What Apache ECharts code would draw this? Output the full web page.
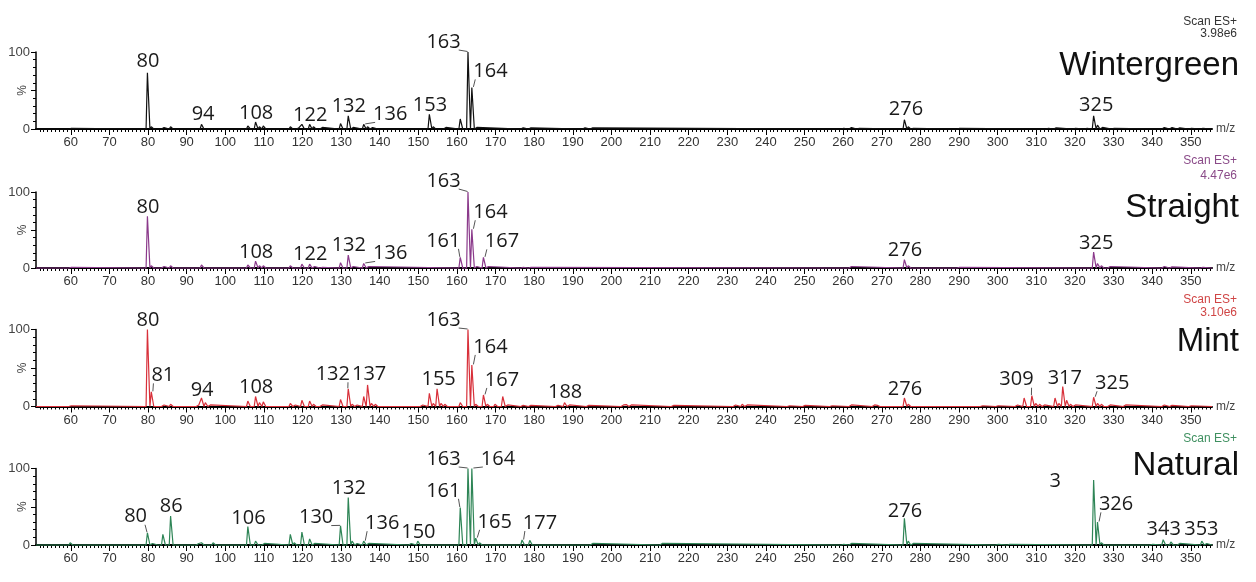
<!DOCTYPE html>
<html><head><meta charset="utf-8">
<script src="https://cdn.jsdelivr.net/npm/echarts@6/dist/echarts.min.js"></script>
<style>html,body{margin:0;padding:0;background:#fff}#c{width:1256px;height:582px}</style>
</head><body><div id="c"></div>
<script>
// ---------- DATA ----------
const xTickLabels = [60,70,80,90,100,110,120,130,140,150,160,170,180,190,200,210,220,230,240,250,260,270,280,290,300,310,320,330,340,350];
const panelNames = ['Wintergreen','Straight','Mint','Natural'];
const scanTexts = ['Scan ES+','Scan ES+','Scan ES+','Scan ES+'];
const scaleTexts = ['3.98e6','4.47e6','3.10e6',''];

const wgMz  = [60,80,81,84,86,94,106,108,109,110,117,119,120,122,123,125,130,132,133,136,137,138,139,153,154,157,161,163,164,165,177,179,193,195,260,262,264,276,277,278,290,313,315,320,323,325,326,327,330,343,345,347,350,353];
const wgInt = [1,73,3,2,3,6,4,9,3,4,3,2,6,6,3,2,7,17,2,6,3,2,1,19,3,2,13,100,54,2,1.5,1.5,1.5,1.5,1,2,1,12,3,1,1,1,1.5,1,1,17,5,2,1,2,2,1.5,1,1];
const wgLabels = [80,94,108,122,132,136,153,163,164,276,325];

const stMz  = [60,80,81,84,86,94,106,108,109,110,117,120,122,123,125,130,132,133,136,137,161,163,164,165,167,168,177,179,262,276,277,290,325,326,327,329,343,345,353];
const stInt = [1,68,3,2,3,4,4,9,3,3,3,5,5,2,1,7,17,2,6,2,14,100,51,2,14,2,1,1,2,11,3,1,21,6,3,2,2,1.5,1];
const stLabels = [80,108,122,132,136,161,163,164,167,276,325];

const mtMz  = [60,80,81,84,86,93,94,95,96,106,108,109,110,117,118,120,122,123,125,130,132,133,134,136,137,138,139,151,153,154,155,156,157,161,163,164,165,167,168,170,172,173,177,179,186,188,189,194,203,204,205,216,232,234,235,246,250,257,262,268,269,276,277,296,300,305,307,309,310,311,312,315,316,317,318,319,320,325,326,327,329,333,343,345,350];
const mtInt = [1,100,19,2,3,2,11,5,2,7,13,5,6,4,2,8,7,3,2,9,23,3,2,13,28,4,3,2,17,4,23,4,3,5,100,54,3,15,3,3,13,2,1.5,1.5,1.5,5,2,1.5,2,2.5,2,1.5,2,3,2,1,1.5,1,2,2,1.5,11,3,1,1,2,11,14,4,3,2,11,4,26,8,3,2,12,4,3,2,2,2,1.5,1];
const mtLabels = [80,81,94,108,132,137,155,163,164,167,188,276,309,317,325];

const ntMz  = [60,80,81,82,84,86,93,94,97,106,108,110,117,118,120,122,123,130,132,133,134,136,137,148,150,161,163,164,165,166,177,179,195,213,260,262,276,277,278,300,303,325,326,327,340,343,345,347,353,354];
const ntInt = [3,16,2,1,14,38,2,3,3,24,5,2,14,3,17,8,2,25,62,5,2,5,2,2,5,49,100,100,9,3,6.5,6,2,2,1,2,35,5,2,1,1,85,30,3,1,7,4,2,5,2];
const ntLabels = [80,86,106,130,132,136,150,161,163,164,165,177,276,326,343,353];
const ntExtraLabel = '3';

// ---------- STYLE / LAYOUT ----------
const X_MIN = 51, X_MAX = 355.5;
const lineColors = ['#111111','#8b3a8b','#d8303a','#2e8556'];
const scanColors = ['#333333','#8a4a88','#d04545','#3f9060'];
const gridTops = [52, 192, 329.5, 468.5];
const gridHeights = [77, 76, 77, 76.5];
const headerY = [[21.5,34,66],[161,176,208],[299.5,313,342],[438.7,0,466]];

const OFF = [
 {80:[0,-12],94:[1,-11],108:[0,-10],122:[0,-10],132:[0,-11],136:[26,-11],153:[0,-10],163:[-25,-11],164:[18,-17],276:[1,-11],325:[2,-12]},
 {80:[0,-10],108:[0,-10],122:[0,-11],132:[0,-11],136:[26,-11],161:[-17.5,-17.5],163:[-25,-12],164:[18,-18],167:[18,-17],276:[0,-10],325:[2,-10]},
 {80:[0,-10.5],81:[11,-17.5],94:[0,-9],108:[0,-10],132:[-16,-15.5],137:[1,-11.7],155:[1,-10],163:[-25,-10.5],164:[18,-19],167:[18,-16],188:[0,-11],276:[0,-9.5],309:[-16,-17],317:[1.5,-9],325:[18,-15]},
 {80:[-12.4,-17],86:[0,-10.4],106:[0,-9],130:[-25,-9.3],132:[0,-10],136:[18,-19],150:[0,-10],161:[-17.5,-17.7],163:[-25,-10.5],164:[25.6,-10.5],165:[18.5,-17.3],177:[17.4,-18],276:[0,-8],326:[18,-18.7],343:[0,-11],353:[-1,-13]}
];

const spectra = [[wgMz,wgInt,wgLabels],[stMz,stInt,stLabels],[mtMz,mtInt,mtLabels],[ntMz,ntInt,ntLabels]];

function profile(mz, inten){
  const pts = [[X_MIN,0]];
  for (let i=0;i<mz.length;i++){
    const m = mz[i], h = inten[i];
    pts.push([m-0.5,0],[m-0.15,h],[m+0.15,h],[m+0.5,0]);
  }
  pts.push([X_MAX,0]);
  return pts;
}

const minorTicks = [];
for (let v=52; v<=355; v++) minorTicks.push(v);

const grid=[], xAxis=[], yAxis=[], series=[], graphic=[];
const FONT_AX = 'Liberation Sans, Arial, sans-serif';

spectra.forEach((sp, i) => {
  const [mz, inten, labs] = sp;
  grid.push({left:36, right:44, top:gridTops[i], height:gridHeights[i], containLabel:false, outerBoundsMode:'none'});
  xAxis.push({
    type:'value', gridIndex:i, min:X_MIN, max:X_MAX, position:'bottom',
    axisLine:{onZero:false, lineStyle:{color:'#000', width:2}},
    axisTick:{customValues:xTickLabels, length:6, lineStyle:{color:'#000', width:1}},
    axisLabel:{customValues:xTickLabels, fontSize:13, color:'#333', margin:7, fontFamily:FONT_AX},
    splitLine:{show:false},
    name:'m/z', nameLocation:'end', nameGap:4, nameMoveOverlap:false,
    nameTextStyle:{fontSize:12, color:'#444', fontFamily:FONT_AX, verticalAlign:'middle'}
  });
  xAxis.push({
    type:'value', gridIndex:i, min:X_MIN, max:X_MAX, position:'bottom',
    axisLine:{show:false},
    axisTick:{customValues:minorTicks, length:3, lineStyle:{color:'#000', width:1}},
    axisLabel:{show:false}, splitLine:{show:false}
  });
  yAxis.push({
    type:'value', gridIndex:i, min:0, max:100, interval:50,
    axisLine:{show:true, lineStyle:{color:'#000', width:1.5}},
    axisTick:{show:true, length:5, lineStyle:{color:'#000'}},
    minorTick:{show:true, splitNumber:5, length:3, lineStyle:{color:'#000'}},
    splitLine:{show:false}, minorSplitLine:{show:false},
    axisLabel:{formatter:v => v===50 ? '' : String(v), fontSize:13, color:'#444', margin:6, fontFamily:FONT_AX},
    name:'%', nameLocation:'middle', nameRotate:90, nameGap:7, nameMoveOverlap:false,
    nameTextStyle:{fontSize:12, color:'#444', fontFamily:FONT_AX}
  });
  series.push({
    type:'line', xAxisIndex:2*i, yAxisIndex:i, data:profile(mz,inten),
    showSymbol:false, symbol:'none', animation:false, z:3, clip:false,
    lineStyle:{color:lineColors[i], width:1.2}, silent:true
  });
  const off = OFF[i];
  const labData = labs.map(m => [m, inten[mz.indexOf(m)], m]);
  series.push({
    type:'custom', xAxisIndex:2*i, yAxisIndex:i, data:labData, animation:false, silent:true, z:5,
    renderItem:(params, api) => {
      const m = api.value(2);
      const p = api.coord([api.value(0), api.value(1)]);
      const o = off[m] || [0,-10];
      const cx = p[0]+o[0], cy = p[1]+o[1]+1;
      const txt = String(m);
      const children = [{type:'text', x:cx, y:cy, style:{text:txt, fill:'#1a1a1a', font:'20px "Open Sans"', align:'center', verticalAlign:'middle'}}];
      if (Math.abs(o[0]) >= 10){
        const w = txt.length*11.44, h = 14;
        const bx = Math.min(Math.max(p[0], cx-w/2+2), cx+w/2-2);
        const by = Math.min(Math.max(p[1], cy-h/2), cy+h/2+1);
        children.push({type:'line', shape:{x1:bx, y1:by, x2:p[0]+(o[0]<0?-1:1), y2:p[1]-0.5}, style:{stroke:'#555', lineWidth:1}});
      }
      return {type:'group', children};
    }
  });
  const hy = headerY[i];
  graphic.push({type:'text', x:1237, y:hy[0], style:{text:scanTexts[i], fill:scanColors[i], font:'12px "Liberation Sans", Arial', align:'right', verticalAlign:'middle'}});
  if (scaleTexts[i]) graphic.push({type:'text', x:1237, y:hy[1], style:{text:scaleTexts[i], fill:scanColors[i], font:'12px "Liberation Sans", Arial', align:'right', verticalAlign:'middle'}});
  graphic.push({type:'text', x:1239, y:hy[2], style:{text:panelNames[i], fill:'#111', font:'33px "Liberation Sans", Arial', align:'right', verticalAlign:'middle'}});
});

// truncated label remnant in the Natural panel
series.push({
  type:'custom', xAxisIndex:6, yAxisIndex:3, data:[[325, ntInt[ntMz.indexOf(325)]]], animation:false, silent:true, z:5,
  renderItem:(params, api) => {
    const p = api.coord([api.value(0), api.value(1)]);
    return {type:'text', x:p[0]-39, y:p[1]+1, style:{text:ntExtraLabel, fill:'#1a1a1a', font:'20px "Open Sans"', align:'center', verticalAlign:'middle'}};
  }
});

const chart = echarts.init(document.getElementById('c'), null, {renderer:'canvas'});
chart.setOption({animation:false, backgroundColor:'#fff', grid, xAxis, yAxis, series, graphic});
</script></body></html>
